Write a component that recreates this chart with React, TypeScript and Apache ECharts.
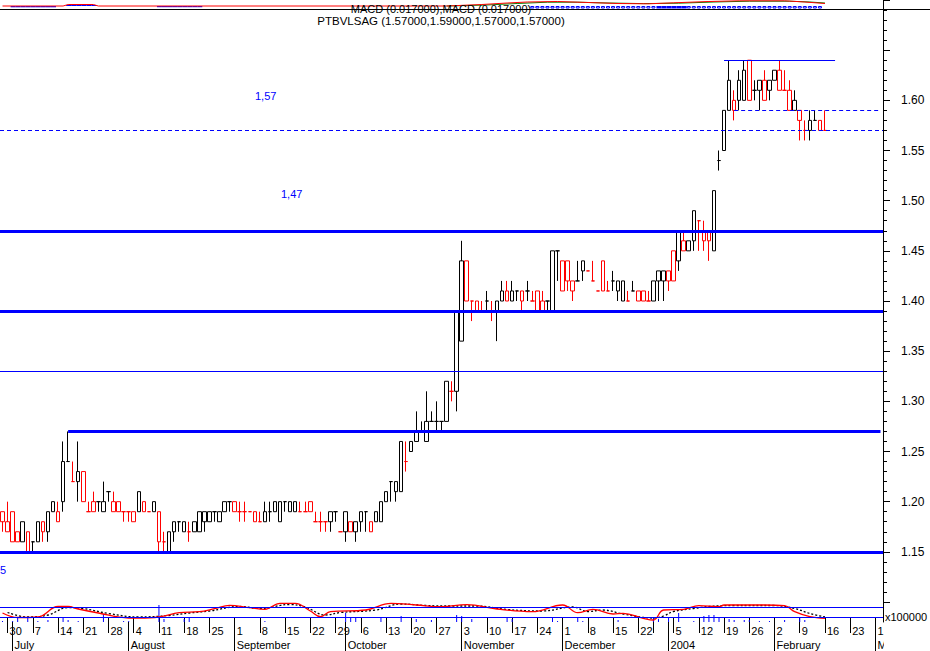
import React, { useEffect, useRef } from "react";
import * as echarts from "echarts";

// ---------- calendar ----------
const FIRST_DAY = "2003-06-27";
const LAST_DAY = "2004-03-02";
const HOLIDAYS = ["2003-12-25", "2003-12-26", "2004-01-01"];
const UNLABELLED_WEEKS = ["2003-12-29"];
const MONTH_NAMES = ["January", "February", "March", "April", "May", "June", "July", "August", "September", "October", "November", "December"];

// ---------- price axis ----------
const Y_MIN = 1.1;
const Y_MAX = 1.7;
const Y_STEP = 0.05;
const Y_LABEL_FROM = 1.15;
const Y_LABEL_TO = 1.6;

// ---------- prices (one per trading day from 2003-06-27) ----------
const PRIOR_CLOSE = 1.2;
const OPEN = [
  1.18, 1.17, 1.19, 1.17, 1.16, 1.17, 1.16, 1.16, 1.18, 1.17,
  1.19, 1.18, 1.2, 1.24, 1.22, 1.22, 1.23, 1.19, 1.2, 1.2,
  1.19, 1.21, 1.19, 1.19, 1.19, 1.19, 1.18, 1.19, 1.2, 1.19,
  1.19, 1.19, 1.16, 1.15, 1.17, 1.18, 1.17, 1.17, 1.17, 1.17,
  1.18, 1.18, 1.19, 1.18, 1.19, 1.2, 1.2, 1.19, 1.19, 1.19,
  1.18, 1.18, 1.18, 1.19, 1.19, 1.18, 1.2, 1.19, 1.19, 1.19,
  1.19, 1.2, 1.18, 1.18, 1.18, 1.18, 1.19, 1.17, 1.17, 1.18,
  1.17, 1.18, 1.19, 1.18, 1.18, 1.18, 1.2, 1.22, 1.21, 1.21,
  1.24, 1.25, 1.26, 1.27, 1.26, 1.28, 1.28, 1.28, 1.28, 1.31,
  1.31, 1.36, 1.44, 1.4, 1.4, 1.39, 1.4, 1.39, 1.39, 1.4,
  1.41, 1.4, 1.41, 1.41, 1.41, 1.4, 1.41, 1.4, 1.4, 1.39,
  1.45, 1.41, 1.44, 1.42, 1.42, 1.43, 1.43, 1.42, 1.41, 1.44,
  1.41, 1.42, 1.41, 1.4, 1.4, 1.41, 1.41, 1.41, 1.4, 1.4,
  1.42, 1.42, 1.43, 1.45, 1.44, 1.46, 1.45, 1.46, 1.48, 1.46,
  1.47, 1.45, 1.54, 1.55, 1.59, 1.59, 1.6, 1.6, 1.64, 1.61,
  1.61, 1.62, 1.61, 1.62, 1.63, 1.61, 1.61, 1.59, 1.59, 1.57,
  1.57, 1.58, 1.58, 1.57,
];
const HIGH = [
  1.19, 1.2, 1.19, 1.17, 1.18, 1.17, 1.16, 1.18, 1.18, 1.19,
  1.2, 1.2, 1.26, 1.27, 1.24, 1.26, 1.23, 1.2, 1.21, 1.2,
  1.22, 1.21, 1.21, 1.2, 1.19, 1.19, 1.19, 1.21, 1.2, 1.19,
  1.2, 1.19, 1.17, 1.17, 1.18, 1.18, 1.18, 1.18, 1.18, 1.19,
  1.19, 1.19, 1.19, 1.19, 1.2, 1.2, 1.2, 1.2, 1.2, 1.19,
  1.19, 1.19, 1.2, 1.2, 1.2, 1.2, 1.2, 1.2, 1.2, 1.2,
  1.2, 1.2, 1.19, 1.19, 1.18, 1.19, 1.19, 1.17, 1.19, 1.18,
  1.18, 1.19, 1.19, 1.18, 1.19, 1.2, 1.21, 1.22, 1.22, 1.26,
  1.26, 1.26, 1.29, 1.28, 1.31, 1.29, 1.3, 1.28, 1.32, 1.32,
  1.39, 1.46, 1.44, 1.4, 1.4, 1.4, 1.41, 1.4, 1.4, 1.42,
  1.42, 1.42, 1.41, 1.41, 1.42, 1.41, 1.41, 1.41, 1.4, 1.45,
  1.45, 1.44, 1.44, 1.42, 1.44, 1.44, 1.43, 1.44, 1.41, 1.44,
  1.42, 1.43, 1.42, 1.42, 1.41, 1.42, 1.41, 1.41, 1.41, 1.42,
  1.43, 1.43, 1.43, 1.45, 1.47, 1.47, 1.46, 1.49, 1.48, 1.48,
  1.47, 1.51, 1.55, 1.59, 1.64, 1.61, 1.63, 1.64, 1.64, 1.62,
  1.62, 1.63, 1.62, 1.63, 1.64, 1.63, 1.62, 1.61, 1.59, 1.58,
  1.59, 1.59, 1.58, 1.59,
];
const LOW = [
  1.17, 1.17, 1.16, 1.16, 1.16, 1.15, 1.15, 1.16, 1.16, 1.16,
  1.19, 1.18, 1.19, 1.24, 1.22, 1.2, 1.2, 1.19, 1.19, 1.19,
  1.19, 1.2, 1.19, 1.19, 1.18, 1.18, 1.18, 1.19, 1.19, 1.19,
  1.19, 1.15, 1.15, 1.15, 1.16, 1.17, 1.17, 1.16, 1.17, 1.17,
  1.17, 1.18, 1.18, 1.18, 1.19, 1.19, 1.19, 1.18, 1.18, 1.19,
  1.18, 1.18, 1.18, 1.18, 1.19, 1.18, 1.19, 1.19, 1.19, 1.19,
  1.19, 1.19, 1.18, 1.17, 1.17, 1.17, 1.18, 1.17, 1.16, 1.17,
  1.16, 1.17, 1.17, 1.17, 1.18, 1.18, 1.2, 1.2, 1.2, 1.21,
  1.23, 1.25, 1.26, 1.27, 1.26, 1.28, 1.27, 1.27, 1.28, 1.3,
  1.29, 1.36, 1.4, 1.38, 1.39, 1.39, 1.39, 1.38, 1.36, 1.4,
  1.4, 1.4, 1.4, 1.39, 1.4, 1.4, 1.39, 1.39, 1.39, 1.39,
  1.42, 1.41, 1.41, 1.4, 1.42, 1.42, 1.43, 1.42, 1.41, 1.41,
  1.41, 1.41, 1.4, 1.4, 1.4, 1.41, 1.4, 1.4, 1.4, 1.4,
  1.4, 1.4, 1.41, 1.42, 1.43, 1.45, 1.45, 1.45, 1.45, 1.45,
  1.44, 1.45, 1.53, 1.55, 1.59, 1.58, 1.59, 1.6, 1.6, 1.6,
  1.59, 1.6, 1.6, 1.62, 1.61, 1.61, 1.59, 1.59, 1.56, 1.56,
  1.56, 1.58, 1.57, 1.57,
];
const CLOSE = [
  1.19, 1.18, 1.16, 1.16, 1.18, 1.15, 1.16, 1.18, 1.17, 1.19,
  1.2, 1.19, 1.24, 1.24, 1.22, 1.23, 1.2, 1.19, 1.19, 1.2,
  1.2, 1.21, 1.2, 1.2, 1.19, 1.19, 1.19, 1.21, 1.19, 1.19,
  1.2, 1.16, 1.16, 1.17, 1.18, 1.18, 1.18, 1.17, 1.18, 1.19,
  1.19, 1.19, 1.19, 1.19, 1.2, 1.2, 1.19, 1.19, 1.19, 1.19,
  1.19, 1.18, 1.19, 1.19, 1.2, 1.2, 1.2, 1.2, 1.2, 1.19,
  1.19, 1.19, 1.18, 1.18, 1.18, 1.19, 1.19, 1.17, 1.19, 1.17,
  1.18, 1.19, 1.19, 1.17, 1.19, 1.2, 1.21, 1.22, 1.22, 1.26,
  1.24, 1.26, 1.27, 1.27, 1.28, 1.28, 1.28, 1.28, 1.32, 1.31,
  1.39, 1.44, 1.4, 1.4, 1.39, 1.39, 1.4, 1.39, 1.4, 1.41,
  1.4, 1.41, 1.41, 1.4, 1.41, 1.4, 1.39, 1.39, 1.4, 1.45,
  1.45, 1.44, 1.42, 1.41, 1.42, 1.44, 1.43, 1.42, 1.41, 1.41,
  1.41, 1.42, 1.42, 1.42, 1.4, 1.41, 1.4, 1.4, 1.4, 1.42,
  1.43, 1.43, 1.42, 1.42, 1.47, 1.45, 1.46, 1.49, 1.48, 1.47,
  1.46, 1.51, 1.54, 1.59, 1.62, 1.6, 1.62, 1.63, 1.6, 1.61,
  1.62, 1.6, 1.62, 1.63, 1.61, 1.61, 1.59, 1.6, 1.58, 1.57,
  1.58, 1.58, 1.57, 1.57,
];

// ---------- drawn levels ----------
const FULL_THICK_LEVELS = [1.47, 1.39, 1.15];
const FULL_THIN_LEVELS = [1.33];
const FULL_DASHED_LEVELS = [1.57];
const PART_THICK_LEVELS = [{ from: "2003-07-16", to: "2004-03-02", value: 1.27 }];
const PART_DASHED_LEVELS = [{ from: "2004-01-21", to: "2004-03-02", value: 1.59 }];
const PART_THIN_LEVELS = [{ from: "2004-01-19", to: "2004-02-18", value: 1.64 }];

// ---------- lower indicator panel ([day index, value]) ----------
const OSC_LEVELS = [0, 1];
const OSC_MAIN = [
  [0, 0.4], [3, -0.05], [7, 0], [11, 1.05], [13, 1.05], [15, 0.8], [19, 0.4], [25, -0.1], [27, -0.1],
  [31, 0], [35, 0.43], [39, 0.53], [42, 0.83], [45, 1.17], [49, 0.93], [52, 0.77], [55, 1.37], [58, 1.37],
  [61, 0.6], [63, 0.03], [65, 0.53], [72, 0.7], [77, 1.37], [82, 1.2], [87, 1.03], [92, 1.23], [98, 0.8],
  [105, 0.53], [111, 1.2], [114, 0.43], [117, 0.77], [121, 0.3], [123, 0.37], [127, -0.13], [129, -0.3],
  [131, 0.7], [135, 0.77], [138, 1.13], [142, 1.03], [143, 1.2], [151, 1.2], [155, 1.13], [157, 0.53],
  [160, 0.03], [163, -0.13],
];
const OSC_SIGNAL = [
  [1, 0.45], [5, 0], [9, 0.2], [13, 0.95], [16, 0.85], [21, 0.35], [27, 0], [33, 0.15], [37, 0.4],
  [41, 0.6], [47, 1.05], [51, 0.85], [57, 1.25], [60, 1.0], [64, 0.2], [67, 0.45], [74, 0.7], [79, 1.3],
  [84, 1.15], [89, 1.1], [94, 1.1], [100, 0.75], [107, 0.6], [113, 1.0], [116, 0.55], [119, 0.7],
  [123, 0.3], [129, -0.1], [131, 0.1], [133, 0.55], [137, 0.85], [140, 1.05], [145, 1.15], [153, 1.15],
  [157, 0.85], [160, 0.35], [163, 0.0],
];
const VOLUME = [
  [0, 1], [2, 1], [3, 5], [5, 5], [7, 1], [9, 2], [12, 5], [13, 2], [15, 1], [20, 8], [24, 1], [25, 1],
  [31, 17], [32, 3], [36, 3], [37, 4], [52, 1], [68, 9], [69, 4], [70, 4], [75, 4], [79, 6], [82, 3],
  [85, 2], [90, 7], [91, 6], [93, 3], [100, 4], [101, 3], [109, 4], [110, 1], [114, 5], [115, 1],
  [122, 2], [129, 4], [130, 3], [132, 4], [134, 9], [137, 1], [139, 6], [140, 7], [141, 7], [142, 5],
  [144, 3], [145, 2], [147, 2], [148, 2], [150, 1], [152, 1], [155, 2], [158, 4], [159, 2],
];

// ---------- top MACD strip ([day index, value]) ----------
const TOP_HIST = [
  [2, -1.3], [3, -1.3], [4, -1.3], [5, -1.3], [6, -1.3], [7, -1.3], [8, -1.3], [9, -1.3], [10, -1.3],
  [13, 1], [14, 1], [15, 1], [16, 1], [17, 1], [18, 1],
  [31, -1.2], [32, -1.2], [33, -1.2], [34, -1.2], [35, -1.2], [36, -1.2], [37, -1.2], [38, -1.2], [39, -1.2],
  [130, -2.5], [131, -2.5], [132, -2.5], [133, -2.5], [134, -2.5], [135, -2.5],
];
const TOP_HIST_OPEN = [
  [105, -2.5], [106, -2.5], [107, -2.5], [108, -2.5], [109, -2.5], [110, -2.5], [111, -2.5], [112, -2.5],
  [113, -2.5], [114, -2.5], [115, -2.5], [116, -2.5], [117, -2.5], [118, -2.5], [119, -2.5], [120, -2.5],
  [121, -2.5], [122, -2.5], [123, -2.5], [124, -2.5], [125, -2.5], [126, -2.5], [127, -2.5], [128, -2.5],
  [129, -2.5], [136, -2.5], [137, -2.5], [138, -2.5], [139, -2.5], [140, -2.5], [141, -2.5], [142, -2.5],
  [143, -2.5], [144, -2.5], [145, -2.5], [146, -2.5], [147, -2.5], [148, -2.5], [149, -2.5], [150, -2.5],
  [151, -2.5], [152, -2.5], [153, -2.5], [154, -2.5], [155, -2.5], [156, -2.5], [157, -2.5], [158, -2.5],
  [159, -2.5], [160, -2.5], [161, -2.5], [162, -2.5],
];
const TOP_MACD = [
  [0, 0], [12, 0], [13, 1.5], [18, 1.5], [19, 0], [88, 0], [95, 1.5], [100, 3], [104, 4], [110, 4.5],
  [116, 3.5], [122, 2.5], [128, 2.2], [133, 3.2], [140, 4.5], [146, 5.2], [155, 5.2], [159, 4], [163, 2.5],
];
const TOP_SIGNAL = [
  [88, 0], [96, 1], [102, 2.5], [108, 3.8], [114, 3.8], [120, 3], [127, 2.4], [134, 2.8], [141, 4],
  [148, 4.8], [156, 4.8], [160, 4], [163, 3],
];

// ---------- texts ----------
const SUBTITLE = "MACD (0.017000),MACD (0.017000)";
const TITLE = "PTBVLSAG (1.57000,1.59000,1.57000,1.57000)";
const NOTE_HIGH = "1,57";
const NOTE_MID = "1,47";
const NOTE_LOW = "5";
const VOL_SCALE = "x100000";

const FONT = "'Liberation Sans', Arial, sans-serif";
const BLUE = "#0000ff";
const RED = "#ff0000";
const BLACK = "#000000";

function buildDays(): string[] {
  const out: string[] = [];
  const d = new Date(FIRST_DAY + "T12:00:00Z");
  const end = new Date(LAST_DAY + "T12:00:00Z");
  while (d.getTime() <= end.getTime()) {
    const iso = d.toISOString().slice(0, 10);
    const wd = d.getUTCDay();
    if (wd !== 0 && wd !== 6 && HOLIDAYS.indexOf(iso) < 0) out.push(iso);
    d.setUTCDate(d.getUTCDate() + 1);
  }
  return out;
}

function weekday(iso: string) {
  return new Date(iso + "T12:00:00Z").getUTCDay();
}

function buildOption() {
  const days = buildDays();
  const isWeekStart = (i: number) => i > 0 && weekday(days[i]) < weekday(days[i - 1]);
  const isMonthStart = (i: number) => i > 0 && days[i].slice(5, 7) !== days[i - 1].slice(5, 7);

  // colours: red when close falls vs previous close, black when it rises, unchanged keeps colour
  const colors: string[] = [];
  let prev = PRIOR_CLOSE;
  let col = RED;
  for (let i = 0; i < CLOSE.length; i++) {
    if (CLOSE[i] < prev - 1e-9) col = RED;
    else if (CLOSE[i] > prev + 1e-9) col = BLACK;
    colors.push(col);
    prev = CLOSE[i];
  }
  const candles = OPEN.map((o, i) => ({
    value: [o, CLOSE[i], LOW[i], HIGH[i]],
    itemStyle: {
      color: "#ffffff",
      color0: colors[i],
      borderColor: colors[i],
      borderColor0: colors[i],
      borderColorDoji: colors[i],
    },
  }));

  const thick = { color: BLUE, width: 3, type: "solid" };
  const thin = { color: BLUE, width: 1, type: "solid" };
  const dashed = { color: BLUE, width: 1, type: [4, 3] };
  const levelData: any[] = [];
  FULL_THICK_LEVELS.forEach((v) => levelData.push({ yAxis: v, lineStyle: thick }));
  FULL_THIN_LEVELS.forEach((v) => levelData.push({ yAxis: v, lineStyle: thin }));
  FULL_DASHED_LEVELS.forEach((v) => levelData.push({ yAxis: v, lineStyle: dashed }));
  const pushPart = (arr: any[], style: any) =>
    arr.forEach((p) => levelData.push([{ coord: [p.from, p.value], lineStyle: style }, { coord: [p.to, p.value] }]));
  pushPart(PART_THICK_LEVELS, thick);
  pushPart(PART_DASHED_LEVELS, dashed);
  pushPart(PART_THIN_LEVELS, thin);

  const gridCommon = { left: 0, right: 47, containLabel: false };

  return {
    animation: false,
    backgroundColor: "#ffffff",
    textStyle: { fontFamily: FONT },
    grid: [
      { ...gridCommon, top: 0, height: 602 },
      { ...gridCommon, top: 598, height: 24 },
      { ...gridCommon, top: 0, height: 9 },
      { ...gridCommon, top: 598, height: 24 },
    ],
    xAxis: [
      { type: "category", gridIndex: 0, data: days, show: false },
      {
        type: "category",
        gridIndex: 1,
        data: days,
        axisLine: { show: true, lineStyle: { color: BLACK, width: 1 } },
        axisTick: {
          show: true,
          alignWithLabel: true,
          length: 16,
          interval: (i: number) => isWeekStart(i),
          lineStyle: { color: BLACK, width: 1 },
        },
        axisLabel: {
          show: true,
          interval: (i: number, v: string) => isWeekStart(i) && UNLABELLED_WEEKS.indexOf(v) < 0,
          formatter: (v: string) => String(parseInt(v.slice(8), 10)),
          align: "left",
          padding: [0, 0, 0, 2],
          margin: 3,
          fontSize: 11,
          color: BLACK,
          fontFamily: FONT,
          hideOverlap: false,
        },
        splitLine: { show: false },
      },
      {
        type: "category",
        gridIndex: 3,
        data: days,
        axisLine: { show: false },
        axisTick: {
          show: true,
          alignWithLabel: true,
          length: 29,
          interval: (i: number) => isMonthStart(i),
          lineStyle: { color: BLACK, width: 1 },
        },
        axisLabel: {
          show: true,
          interval: (i: number) => isMonthStart(i),
          formatter: (v: string) => {
            const m = parseInt(v.slice(5, 7), 10);
            return m === 1 ? v.slice(0, 4) : MONTH_NAMES[m - 1];
          },
          align: "left",
          padding: [0, 0, 0, 2],
          margin: 17,
          fontSize: 11,
          color: BLACK,
          fontFamily: FONT,
          hideOverlap: false,
        },
        splitLine: { show: false },
      },
      { type: "category", gridIndex: 2, data: days, show: false },
    ],
    yAxis: [
      {
        type: "value",
        gridIndex: 0,
        position: "right",
        min: Y_MIN,
        max: Y_MAX,
        interval: Y_STEP,
        axisLine: { show: true, lineStyle: { color: BLACK, width: 1 } },
        axisTick: { show: true, length: 7, lineStyle: { color: BLACK, width: 1 } },
        minorTick: { show: true, splitNumber: 5, length: 4, lineStyle: { color: BLACK, width: 1 } },
        splitLine: { show: false },
        minorSplitLine: { show: false },
        axisLabel: {
          margin: 18,
          fontSize: 12,
          color: BLACK,
          fontFamily: FONT,
          formatter: (v: number) => (v >= Y_LABEL_FROM - 1e-6 && v <= Y_LABEL_TO + 1e-6 ? v.toFixed(2) : ""),
        },
      },
      {
        type: "value",
        gridIndex: 1,
        position: "right",
        min: -0.5,
        max: 1.9,
        axisLine: { show: true, lineStyle: { color: BLACK, width: 1 } },
        axisTick: { show: false },
        axisLabel: { show: false },
        splitLine: { show: false },
      },
      { type: "value", gridIndex: 1, min: 0, max: 24, show: false, splitLine: { show: false } },
      { type: "value", gridIndex: 2, min: -3, max: 6, show: false, splitLine: { show: false } },
      { type: "value", gridIndex: 3, show: false, splitLine: { show: false } },
    ],
    series: [
      {
        type: "candlestick",
        xAxisIndex: 0,
        yAxisIndex: 0,
        barWidth: 4,
        data: candles,
        itemStyle: { borderWidth: 1 },
        silent: true,
        markLine: {
          silent: true,
          symbol: ["none", "none"],
          label: { show: false },
          emphasis: { disabled: true },
          data: levelData,
        },
      },
      {
        type: "line",
        xAxisIndex: 1,
        yAxisIndex: 1,
        data: OSC_MAIN,
        smooth: 0.4,
        showSymbol: false,
        symbol: "none",
        lineStyle: { color: RED, width: 1.3 },
        silent: true,
        z: 4,
        markLine: {
          silent: true,
          symbol: ["none", "none"],
          label: { show: false },
          emphasis: { disabled: true },
          lineStyle: { color: BLUE, width: 1, type: "solid" },
          data: OSC_LEVELS.map((v) => ({ yAxis: v })),
        },
      },
      {
        type: "line",
        xAxisIndex: 1,
        yAxisIndex: 1,
        data: OSC_SIGNAL,
        smooth: 0.4,
        showSymbol: false,
        symbol: "none",
        lineStyle: { color: BLACK, width: 1.3, type: [2, 2] },
        silent: true,
        z: 3,
      },
      {
        type: "bar",
        xAxisIndex: 1,
        yAxisIndex: 2,
        data: VOLUME,
        barWidth: 1,
        itemStyle: { color: BLUE },
        silent: true,
      },
      {
        type: "bar",
        xAxisIndex: 3,
        yAxisIndex: 3,
        data: TOP_HIST,
        barWidth: 5,
        barGap: "-100%",
        itemStyle: { color: BLUE },
        silent: true,
      },
      {
        type: "bar",
        xAxisIndex: 3,
        yAxisIndex: 3,
        data: TOP_HIST_OPEN,
        barWidth: 4,
        barGap: "-100%",
        itemStyle: { color: "#ffffff", borderColor: BLUE, borderWidth: 1 },
        silent: true,
      },
      {
        type: "line",
        xAxisIndex: 3,
        yAxisIndex: 3,
        data: TOP_SIGNAL,
        showSymbol: false,
        symbol: "none",
        lineStyle: { color: "#008000", width: 1 },
        silent: true,
      },
      {
        type: "line",
        xAxisIndex: 3,
        yAxisIndex: 3,
        data: TOP_MACD,
        showSymbol: false,
        symbol: "none",
        lineStyle: { color: RED, width: 1 },
        silent: true,
      },
    ],
    graphic: [
      { type: "line", shape: { x1: 0, y1: 9.5, x2: 930, y2: 9.5 }, style: { stroke: BLACK, lineWidth: 1 }, z: 50 },
      {
        type: "text",
        x: 441,
        y: 9,
        z: 60,
        style: { text: SUBTITLE, fill: BLACK, font: `11px ${FONT}`, textAlign: "center", textVerticalAlign: "middle", align: "center", verticalAlign: "middle" },
      },
      {
        type: "text",
        x: 441,
        y: 20.5,
        z: 60,
        style: { text: TITLE, fill: BLACK, font: `11.5px ${FONT}`, textAlign: "center", textVerticalAlign: "middle", align: "center", verticalAlign: "middle" },
      },
      {
        type: "text",
        x: 255,
        y: 96,
        z: 60,
        style: { text: NOTE_HIGH, fill: BLUE, font: `11px ${FONT}`, textAlign: "left", textVerticalAlign: "middle", align: "left", verticalAlign: "middle" },
      },
      {
        type: "text",
        x: 281,
        y: 194,
        z: 60,
        style: { text: NOTE_MID, fill: BLUE, font: `11px ${FONT}`, textAlign: "left", textVerticalAlign: "middle", align: "left", verticalAlign: "middle" },
      },
      {
        type: "text",
        x: 0,
        y: 570,
        z: 60,
        style: { text: NOTE_LOW, fill: BLUE, font: `11px ${FONT}`, textAlign: "left", textVerticalAlign: "middle", align: "left", verticalAlign: "middle" },
      },
      {
        type: "text",
        x: 885,
        y: 617,
        z: 60,
        style: { text: VOL_SCALE, fill: BLACK, font: `11px ${FONT}`, textAlign: "left", textVerticalAlign: "middle", align: "left", verticalAlign: "middle" },
      },
      { type: "rect", shape: { x: 884, y: 623, width: 46, height: 28 }, style: { fill: "#ffffff" }, z: 100 },
    ],
  };
}

export default function App() {
  const ref = useRef<HTMLDivElement>(null);
  useEffect(() => {
    if (!ref.current) return;
    const chart = echarts.init(ref.current, undefined, { renderer: "svg" });
    chart.setOption(buildOption() as any);
    return () => chart.dispose();
  }, []);
  return (
    <div
      ref={ref}
      style={{ position: "fixed", left: 0, top: 0, width: 930, height: 651, background: "#ffffff" }}
    />
  );
}
